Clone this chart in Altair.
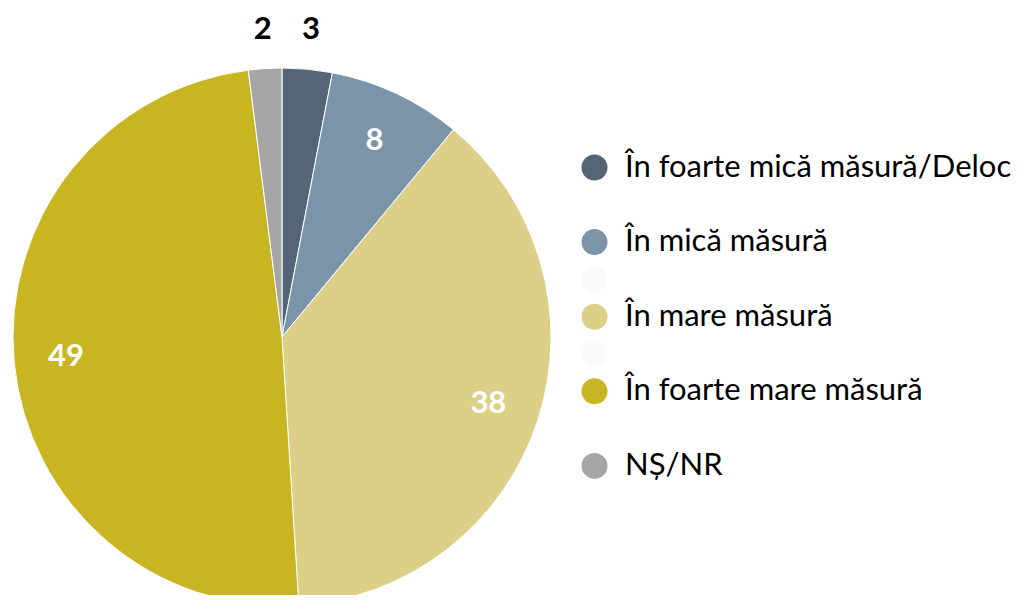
import altair as alt
import pandas as pd

categories = ["În foarte mică măsură/Deloc", "În mică măsură", "În mare măsură",
              "În foarte mare măsură", "NȘ/NR"]
values = [3, 8, 38, 49, 2]
colors = ["#546577", "#7a95aa", "#dccf87", "#c9b521", "#a6a6a6"]

legend_domain = [categories[0], "b1", categories[1], "b2", categories[2], "b3",
                 categories[3], "b4", categories[4]]
legend_range = [colors[0], "#ffffff", colors[1], "#fafafa", colors[2], "#fafafa",
                colors[3], "#ffffff", colors[4]]

df = pd.DataFrame({"cat": categories, "value": values, "ord": list(range(len(values)))})
df["label"] = df["value"].astype(str)

base = alt.Chart(df).encode(
    theta=alt.Theta("value:Q", stack=True),
    order=alt.Order("ord:Q"),
)

cx, cy = 274, 329

pie = base.mark_arc(radius=269, stroke="white", strokeWidth=1).encode(
    x=alt.value(cx), y=alt.value(cy),
    color=alt.Color(
        "cat:N",
        scale=alt.Scale(domain=legend_domain, range=legend_range),
        legend=alt.Legend(
            title=None, orient="none", legendX=571, legendY=144,
            symbolType="circle", symbolSize=676, symbolStrokeWidth=0,
            labelFont="Lato", labelFontSize=31, labelColor="#000000",
            labelOffset=15, rowPadding=5.3, padding=0, labelLimit=600,
            labelExpr=("indexof(datum.label, 'b') == 0 && length(datum.label) == 2 ? '' : "
                       "(datum.label == 'În mică măsură' ? '\u2009' + datum.label : datum.label)"),
            symbolOpacity=1,
        ),
    ),
)

inner = base.mark_text(radius=217, font="Lato", fontSize=31, fontWeight="bold",
                       color="white").encode(
    x=alt.value(cx), y=alt.value(cy),
    text=alt.condition("datum.value >= 5", "label:N", alt.value("")),
)
outer = base.mark_text(radius=308, font="Lato", fontSize=31, fontWeight="bold",
                       color="black").encode(
    x=alt.value(cx), y=alt.value(cy),
    text=alt.condition("datum.value < 5", "label:N", alt.value("")),
)

chart = alt.layer(pie, inner, outer).properties(
    width=1015, height=587, padding=0,
    autosize=alt.AutoSizeParams(type="none"),
).configure_view(stroke=None)

chart.save("out.html", embed_options={"renderer": "svg", "actions": False})
